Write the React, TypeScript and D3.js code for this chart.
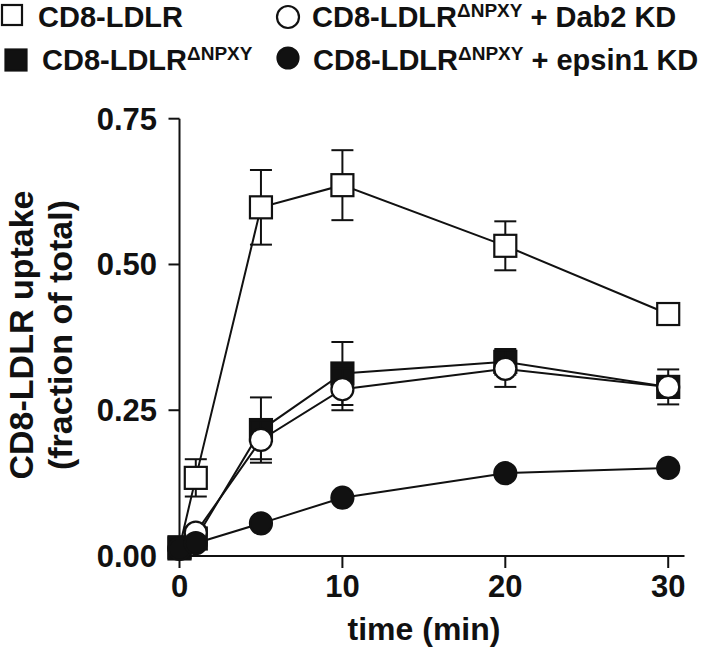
import * as d3 from 'd3';

// time points (min)
const times = [0, 1, 5, 10, 20, 30];

// CD8-LDLR (open squares)
const ldlrMean = [0.015, 0.134, 0.598, 0.636, 0.532, 0.415];
const ldlrErr = [0, 0.032, 0.064, 0.06, 0.042, 0];

// CD8-LDLR ΔNPXY (filled squares)
const npxyMean = [0.013, 0.03, 0.216, 0.313, 0.333, 0.29];
const npxyErr = [0, 0, 0.056, 0.054, 0.022, 0.018];

// CD8-LDLR ΔNPXY + Dab2 KD (open circles)
const dab2Mean = [0.013, 0.04, 0.199, 0.286, 0.321, 0.29];
const dab2Err = [0, 0, 0.033, 0.036, 0.031, 0.03];

// CD8-LDLR ΔNPXY + epsin1 KD (filled circles)
const epsinMean = [0.012, 0.022, 0.056, 0.1, 0.142, 0.151];
const epsinErr = [0, 0, 0, 0, 0, 0];

const xTicks = [0, 10, 20, 30];
const yTicks = [0, 0.25, 0.5, 0.75];

const FONT = "'Liberation Sans', Arial, Helvetica, sans-serif";

const series = [
  { key: 'ldlr', mean: ldlrMean, err: ldlrErr, shape: 'square', filled: false },
  { key: 'npxy', mean: npxyMean, err: npxyErr, shape: 'square', filled: true },
  { key: 'dab2', mean: dab2Mean, err: dab2Err, shape: 'circle', filled: false },
  { key: 'epsin', mean: epsinMean, err: epsinErr, shape: 'circle', filled: true },
];

function Marker({ shape, filled, cx, cy, size }) {
  const fill = filled ? '#111' : '#fff';
  if (shape === 'square') {
    return (
      <rect x={cx - size / 2} y={cy - size / 2} width={size} height={size}
        fill={fill} stroke="#111" strokeWidth={2.2} />
    );
  }
  return <circle cx={cx} cy={cy} r={size / 2} fill={fill} stroke="#111" strokeWidth={2.2} />;
}

function LegendLabel({ x, y, suffix, sup }) {
  return (
    <text x={x} y={y} fontFamily={FONT} fontWeight="bold" fontSize={29} fill="#111">
      <tspan>CD8-LDLR</tspan>
      {sup && <tspan fontSize={19} dy={-10}>ΔNPXY</tspan>}
      {suffix && <tspan dy={sup ? 10 : 0}>{suffix}</tspan>}
    </text>
  );
}

export default function App() {
  const width = 701;
  const height = 658;

  const x = d3.scaleLinear().domain([0, 31]).range([179.5, 684.5]);
  const y = d3.scaleLinear().domain([0, 0.75]).range([556, 118.7]);

  const line = d3.line<number>()
    .x((_, i) => x(times[i]))
    .y(d => y(d));

  const capW = 22;
  const mSize = 22;

  return (
    <svg width={width} height={height} style={{ position: 'absolute', left: 0, top: 0, background: '#fff' }}>
      {/* legend */}
      <g>
        <Marker shape="square" filled={false} cx={12} cy={15} size={20} />
        <LegendLabel x={38} y={27} />
        <Marker shape="circle" filled={false} cx={288} cy={17} size={22} />
        <LegendLabel x={312} y={27} sup suffix=" + Dab2 KD" />
        <Marker shape="square" filled={true} cx={16} cy={60} size={21} />
        <LegendLabel x={42} y={70} sup />
        <Marker shape="circle" filled={true} cx={288} cy={58} size={21} />
        <LegendLabel x={313} y={70} sup suffix=" + epsin1 KD" />
      </g>

      {/* axes */}
      <g stroke="#111" strokeWidth={2}>
        <line x1={x(0)} x2={x(0)} y1={y(0.75)} y2={y(0)} />
        <line x1={x(0)} x2={x(31)} y1={y(0)} y2={y(0)} />
        {yTicks.map(t => (
          <line key={'yt' + t} x1={x(0) - 11} x2={x(0)} y1={y(t)} y2={y(t)} />
        ))}
        {xTicks.map(t => (
          <line key={'xt' + t} x1={x(t)} x2={x(t)} y1={y(0)} y2={y(0) + 12} />
        ))}
      </g>
      <g fontFamily={FONT} fontWeight="bold" fontSize={31} fill="#111">
        {yTicks.map(t => (
          <text key={'yl' + t} x={157} y={y(t) + 11} textAnchor="end">{d3.format('.2f')(t)}</text>
        ))}
        {xTicks.map(t => (
          <text key={'xl' + t} x={x(t)} y={597} textAnchor="middle">{t}</text>
        ))}
      </g>
      <text x={424} y={640} textAnchor="middle" fontFamily={FONT} fontWeight="bold" fontSize={32} fill="#111">time (min)</text>
      <text transform="translate(33,335) rotate(-90)" textAnchor="middle" fontFamily={FONT} fontWeight="bold" fontSize={34} fill="#111">CD8-LDLR uptake</text>
      <text transform="translate(72,335) rotate(-90)" textAnchor="middle" fontFamily={FONT} fontWeight="bold" fontSize={34} fill="#111">(fraction of total)</text>

      {/* data */}
      {series.map(s => (
        <g key={s.key}>
          <path d={line(s.mean) || ''} fill="none" stroke="#111" strokeWidth={2} />
          {s.mean.map((m, i) => s.err[i] > 0 && (
            <g key={'e' + i} stroke="#111" strokeWidth={2}>
              <line x1={x(times[i])} x2={x(times[i])} y1={y(m + s.err[i])} y2={y(m - s.err[i])} />
              <line x1={x(times[i]) - capW / 2} x2={x(times[i]) + capW / 2} y1={y(m + s.err[i])} y2={y(m + s.err[i])} />
              <line x1={x(times[i]) - capW / 2} x2={x(times[i]) + capW / 2} y1={y(m - s.err[i])} y2={y(m - s.err[i])} />
            </g>
          ))}
          {s.mean.map((m, i) => (
            <Marker key={'m' + i} shape={s.shape} filled={s.filled} cx={x(times[i])} cy={y(m)} size={mSize} />
          ))}
        </g>
      ))}
    </svg>
  );
}
